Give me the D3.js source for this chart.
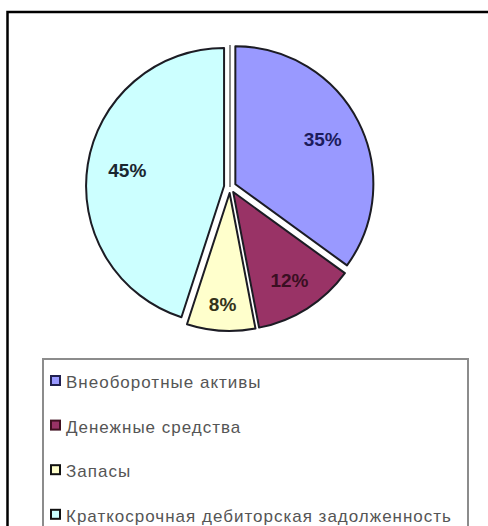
<!DOCTYPE html>
<html>
<head>
<meta charset="utf-8">
<script src="https://cdn.jsdelivr.net/npm/d3@7"></script>
<style>
  html, body { margin: 0; padding: 0; background: #fff; }
  svg { display: block; }
</style>
</head>
<body>
<svg id="chart" width="488" height="526"></svg>
<script>
// data
const categories = ['Внеоборотные  активы', 'Денежные  средства', 'Запасы', 'Краткосрочная  дебиторская  задолженность'];
const values = [35, 12, 8, 45];
const fills = ['#9999ff', '#993366', '#ffffcc', '#ccffff'];
const labelColors = ['#1c1c5c', '#3a0f22', '#33331a', '#1a2630'];
const markerStroke = ['#202050', '#401020', '#111', '#111'];
// how far out each percent label sits (fraction of radius)
const labelPos = [0.71, 0.76, 0.81, 0.71];

const svg = d3.select('#chart');

// outer frame
svg.append('rect')
  .attr('x', 7.5).attr('y', 12).attr('width', 500).attr('height', 540)
  .attr('fill', '#fff').attr('stroke', '#000').attr('stroke-width', 2.5);

const cx = 230, cy = 187, R = 138, explode = 6;

const pie = d3.pie().sort(null).value(d => d);
const arcs = pie(values);
const arc = d3.arc().innerRadius(0).outerRadius(R);

const g = svg.append('g').attr('transform', `translate(${cx},${cy})`);

// thin line in the gap at 12 o'clock
g.append('line')
  .attr('x1', 0).attr('y1', 0).attr('x2', 0).attr('y2', -R - 4)
  .attr('stroke', '#8a8a8a').attr('stroke-width', 2);

const slices = g.selectAll('g.slice')
  .data(arcs)
  .join('g')
  .attr('class', 'slice')
  .attr('transform', d => {
    const a = (d.startAngle + d.endAngle) / 2;
    return `translate(${Math.sin(a) * explode},${-Math.cos(a) * explode})`;
  });

slices.append('path')
  .attr('d', arc)
  .attr('fill', (d, i) => fills[i])
  .attr('stroke', '#1c1c24')
  .attr('stroke-width', 2)
  .attr('stroke-linejoin', 'round');

// percent labels
slices.append('text')
  .attr('transform', (d, i) => {
    const lr = R * labelPos[i];
    return `translate(${d3.arc().innerRadius(lr).outerRadius(lr).centroid(d)})`;
  })
  .attr('text-anchor', 'middle')
  .attr('dy', '0.35em')
  .attr('font-family', 'Liberation Sans, Arial, sans-serif')
  .attr('font-weight', 'bold')
  .attr('font-size', 19)
  .attr('fill', (d, i) => labelColors[i])
  .text(d => d.data + '%');

// legend
const legend = svg.append('g').attr('transform', 'translate(43,359)');
legend.append('rect')
  .attr('x', 0).attr('y', 0).attr('width', 425).attr('height', 200)
  .attr('fill', '#fff').attr('stroke', '#8c8c8c').attr('stroke-width', 2);

const items = legend.selectAll('g.item')
  .data(categories)
  .join('g')
  .attr('class', 'item')
  .attr('transform', (d, i) => `translate(0,${23 + i * 44.6})`);

items.append('rect')
  .attr('x', 8).attr('y', -6).attr('width', 9).attr('height', 9)
  .attr('fill', (d, i) => fills[i])
  .attr('stroke', (d, i) => markerStroke[i])
  .attr('stroke-width', 2);

items.append('text')
  .attr('x', 23)
  .attr('dy', '0.36em')
  .attr('font-family', 'Liberation Sans, Arial, sans-serif')
  .attr('font-size', 17)
  .attr('fill', '#555')
  .attr('letter-spacing', 1)
  .text(d => d);
</script>
</body>
</html>
